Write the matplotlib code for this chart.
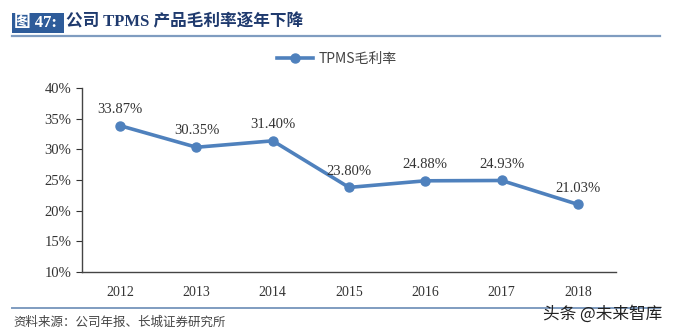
import matplotlib
matplotlib.use("Agg")
import matplotlib.pyplot as plt
from matplotlib.ticker import FuncFormatter
from matplotlib.lines import Line2D
from matplotlib.patches import Rectangle

plt.rcParams['font.family'] = ['Liberation Serif', 'Noto Sans CJK SC', 'DejaVu Sans']

# 数据
years = ['2012', '2013', '2014', '2015', '2016', '2017', '2018']
margin = [33.87, 30.35, 31.40, 23.80, 24.88, 24.93, 21.03]
yticks = [10, 15, 20, 25, 30, 35, 40]

line_color = '#4F81BD'

fig = plt.figure(figsize=(6.74, 3.35), dpi=100)
ax = fig.add_axes([0.1217, 0.188, 0.7923, 0.549])

x = range(len(years))
ax.plot(x, margin, color=line_color, linewidth=2.6, marker='o', markersize=6.5)
for i, v in zip(x, margin):
    ax.text(i, v + 1.6, '%.2f%%' % v, ha='center', va='bottom', fontsize=10.5, color='#333333')

ax.set_xlim(-0.5, len(years) - 0.5)
ax.set_ylim(10, 40)
ax.set_yticks(yticks)
ax.yaxis.set_major_formatter(FuncFormatter(lambda v, p: '%d%%' % v))
ax.set_xticks(list(x))
ax.set_xticklabels(years)
ax.tick_params(axis='y', labelsize=10.5, colors='#333333', length=4, direction='out')
ax.tick_params(axis='x', labelsize=10, colors='#333333', length=0, pad=10)
for s in ['top', 'right']:
    ax.spines[s].set_visible(False)
for s in ['left', 'bottom']:
    ax.spines[s].set_color('#444444')
    ax.spines[s].set_linewidth(1.0)

# 图例
handle = Line2D([], [], color=line_color, linewidth=2.6, marker='o', markersize=6.5)
fig.legend([handle], ['TPMS毛利率'], loc='center', bbox_to_anchor=(0.5, 0.825),
           frameon=False, prop={'family': ['Noto Sans CJK SC'], 'size': 10}, handlelength=2.6,
           handletextpad=0.4, labelcolor='#444444')

# 标题
fig.add_artist(Rectangle((12 / 674, 1 - 32.5 / 335), 52 / 674, 20 / 335,
                         transform=fig.transFigure, facecolor='#2E5C9A', edgecolor='none'))
fig.text(14 / 674, 1 - 22.5 / 335, '图 47:', fontsize=12, fontweight='bold', color='white',
         family=['Liberation Serif', 'Noto Sans CJK SC'], va='center')
fig.text(66 / 674, 1 - 22.5 / 335, '公司 TPMS 产品毛利率逐年下降', fontsize=12, fontweight='bold',
         color='#1F3A6E', family=['Liberation Serif', 'Noto Sans CJK SC'], va='center')
fig.add_artist(Line2D([12 / 674, 660 / 674], [1 - 36 / 335, 1 - 36 / 335],
                      color='#7F9CC0', linewidth=1.6))

# 底部
fig.add_artist(Line2D([12 / 674, 660 / 674], [1 - 308 / 335, 1 - 308 / 335],
                      color='#7F9CC0', linewidth=1.4))
fig.text(13 / 674, 1 - 322 / 335, '资料来源：公司年报、长城证券研究所', fontsize=9, color='#444444',
         style='italic', family=['Noto Sans CJK SC'], va='center')
fig.text(662 / 674, 1 - 314 / 335, '头条 @未来智库', fontsize=12, color='#222222',
         family=['Noto Sans CJK SC'], ha='right', va='center')

fig.savefig('out.png', dpi=100)
